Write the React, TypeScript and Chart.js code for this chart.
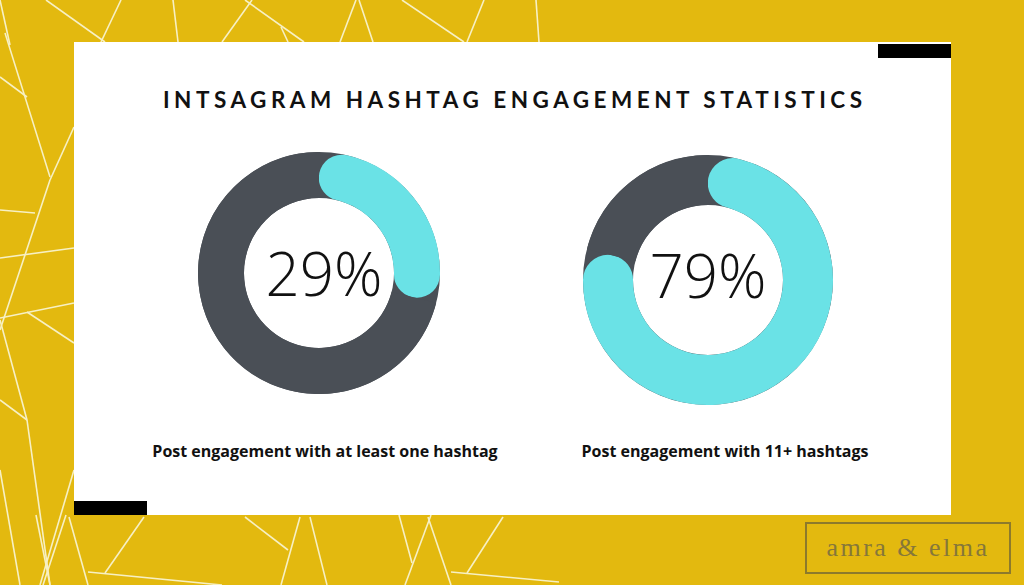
import React, { useEffect, useRef } from "react";
import { Chart, registerables } from "chart.js";

Chart.register(...registerables);

// ---- Data ----
const chartTitle = "INTSAGRAM HASHTAG ENGAGEMENT STATISTICS";
const segmentNames = ["Engagement", "Rest"];
const atLeastOneHashtagValues = [29, 71];
const elevenPlusHashtagValues = [79, 21];
const centerTexts = ["29%", "79%"];
const captionTexts = [
  "Post engagement with at least one hashtag",
  "Post engagement with 11+ hashtags",
];
const brandText = "amra & elma";

// ---- Styles ----
const YELLOW = "#e3b90f";
const CYAN = "#6ae2e6";
const SLATE = "#4a4f56";
const LINE = "#f7f0c4";

const bgLines: [number, number, number, number][] = [
  // top strip
  [0, 0, 10, 45], [46, 0, 105, 42], [121, 0, 101, 42], [173, 0, 178, 42],
  [252, 0, 222, 42], [245, 0, 304, 42], [281, 27, 288, 42], [356, 0, 340, 42],
  [359, 0, 373, 42], [402, 0, 464, 42], [484, 0, 467, 42], [536, 0, 539, 42],
  // left strip
  [5, 33, 50, 177], [0, 77, 27, 97], [74, 127, 50, 180], [50, 180, 0, 330],
  [0, 210, 35, 213], [0, 258, 74, 248], [0, 318, 74, 303], [27, 312, 74, 343],
  [0, 320, 27, 420], [27, 420, 50, 585], [0, 400, 27, 420], [74, 470, 40, 585],
  [0, 470, 20, 585],
  // bottom strip
  [36, 515, 50, 585], [66, 515, 43, 585], [69, 517, 88, 585], [144, 517, 105, 573],
  [88, 572, 222, 585], [245, 517, 288, 550], [300, 517, 281, 585], [310, 517, 327, 585],
  [399, 515, 412, 563], [431, 515, 405, 585], [428, 517, 451, 585], [503, 517, 467, 573],
  [451, 572, 559, 582],
];

const ringPlugin = {
  id: "ringBackdrop",
  beforeDatasetsDraw(chart: any, _args: any, opts: any) {
    const arc = chart.getDatasetMeta(0).data[0];
    if (!arc) return;
    const p = arc.getProps(["x", "y", "innerRadius", "outerRadius"], true);
    const ctx = chart.ctx;
    ctx.save();
    ctx.beginPath();
    ctx.arc(p.x, p.y, p.outerRadius, 0, Math.PI * 2);
    ctx.arc(p.x, p.y, p.innerRadius, 0, Math.PI * 2, true);
    ctx.closePath();
    ctx.fillStyle = opts.color || SLATE;
    ctx.fill();
    ctx.restore();
  },
  afterDatasetsDraw(chart: any, _args: any, opts: any) {
    const arc = chart.getDatasetMeta(0).data[0];
    if (!arc || !opts.text) return;
    const p = arc.getProps(["x", "y"], true);
    const ctx = chart.ctx;
    ctx.save();
    ctx.font = "300 60px 'Open Sans'";
    ctx.fillStyle = "#111111";
    ctx.textAlign = "center";
    ctx.textBaseline = "middle";
    ctx.fillText(opts.text, p.x + (opts.dx || 0), p.y + (opts.dy || 0));
    ctx.restore();
  },
};

function Donut(props: {
  values: number[];
  text: string;
  size: number;
  cutout: string;
  left: number;
  top: number;
  dx: number;
  dy: number;
}) {
  const ref = useRef<HTMLCanvasElement>(null);
  useEffect(() => {
    if (!ref.current) return;
    const chart = new Chart(ref.current, {
      type: "doughnut",
      data: {
        labels: segmentNames,
        datasets: [
          {
            data: props.values,
            backgroundColor: [CYAN, SLATE],
            borderWidth: 0,
            borderRadius: (c: any) => (c.dataIndex === 0 ? 999 : 0),
          } as any,
        ],
      },
      options: {
        responsive: false,
        animation: false,
        events: [],
        cutout: props.cutout,
        rotation: 0,
        layout: { padding: 0 },
        plugins: {
          legend: { display: false },
          tooltip: { enabled: false },
          ringBackdrop: { color: SLATE, text: props.text, dx: props.dx, dy: props.dy },
        } as any,
      },
      plugins: [ringPlugin as any],
    });
    return () => chart.destroy();
  }, []);
  return (
    <canvas
      ref={ref}
      width={props.size}
      height={props.size}
      style={{ position: "absolute", left: props.left, top: props.top, width: props.size, height: props.size }}
    />
  );
}

const captionStyle: React.CSSProperties = {
  position: "absolute",
  width: 440,
  top: 440,
  textAlign: "center",
  fontFamily: "'Open Sans', sans-serif",
  fontWeight: 700,
  fontSize: 16,
  color: "#111",
  lineHeight: "22px",
  whiteSpace: "nowrap",
};

export default function App() {
  return (
    <div
      style={{
        position: "fixed",
        left: 0,
        top: 0,
        width: 1024,
        height: 585,
        overflow: "hidden",
        background: YELLOW,
      }}
    >
      <svg width={1024} height={585} style={{ position: "absolute", left: 0, top: 0 }}>
        {bgLines.map((l, i) => (
          <line key={i} x1={l[0]} y1={l[1]} x2={l[2]} y2={l[3]} stroke={LINE} strokeWidth={1.6} />
        ))}
      </svg>
      {/* card */}
      <div style={{ position: "absolute", left: 74, top: 42, width: 877, height: 473, background: "#ffffff" }} />
      <div style={{ position: "absolute", left: 878, top: 44, width: 73, height: 14, background: "#000" }} />
      <div style={{ position: "absolute", left: 74, top: 501, width: 73, height: 14, background: "#000" }} />
      <div
        style={{
          position: "absolute",
          left: 74,
          width: 877,
          top: 86,
          textAlign: "center",
          fontFamily: "Lato, 'Noto Sans', sans-serif",
          fontWeight: 700,
          fontSize: 22.5,
          letterSpacing: 4.5,
          paddingLeft: 4.5,
          boxSizing: "border-box",
          color: "#111",
          lineHeight: "28px",
          whiteSpace: "nowrap",
        }}
      >
        {chartTitle}
      </div>
      <Donut values={atLeastOneHashtagValues} text={centerTexts[0]} size={242} cutout="62%" left={198} top={152} dx={5} dy={6} />
      <Donut values={elevenPlusHashtagValues} text={centerTexts[1]} size={250} cutout="60%" left={583} top={155} dx={0} dy={1} />
      <div style={{ ...captionStyle, left: 105 }}>{captionTexts[0]}</div>
      <div style={{ ...captionStyle, left: 505 }}>{captionTexts[1]}</div>
      <div
        style={{
          position: "absolute",
          left: 805,
          top: 522,
          width: 202,
          height: 48,
          border: "2px solid #8c7a2c",
          display: "flex",
          alignItems: "center",
          justifyContent: "center",
          fontFamily: "'Liberation Serif', 'DejaVu Serif', serif",
          fontSize: 26,
          letterSpacing: 2.5,
          color: "#86773a",
        }}
      >
        {brandText}
      </div>
    </div>
  );
}
